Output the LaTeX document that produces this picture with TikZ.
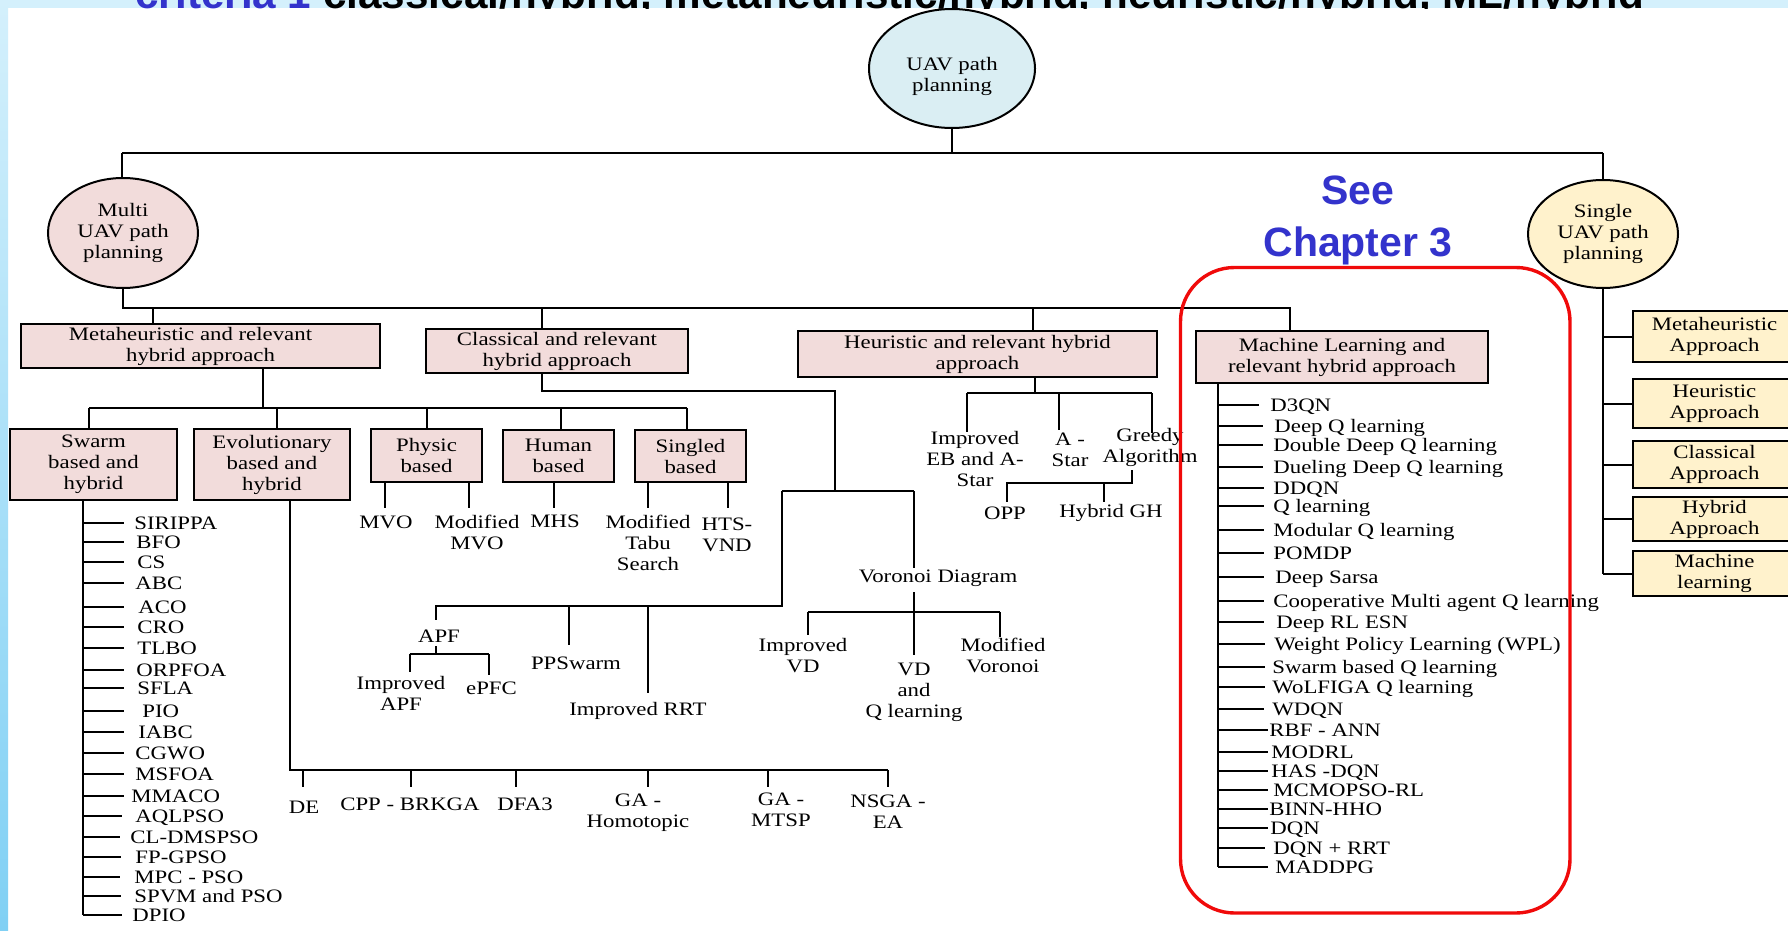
\documentclass[tikz,border=0pt]{standalone}
\usepackage{fontspec}
\setmainfont{Liberation Serif}[FakeStretch=1.2]
\newfontfamily\slidesans{Liberation Sans}
\usetikzlibrary{shapes.geometric}

\definecolor{catpink}{RGB}{242,220,219}
\definecolor{sidecream}{RGB}{255,242,204}
\definecolor{rootblue}{RGB}{218,238,243}
\definecolor{noteblue}{RGB}{51,51,204}
\definecolor{bandblue}{RGB}{212,240,252}
\definecolor{stripdark}{RGB}{128,208,244}
\definecolor{ringred}{RGB}{240,10,10}

\tikzset{
  txt/.style={inner sep=0pt, align=center, font=\fontsize{9.5}{10.5}\selectfont},
  catbox/.style={txt, draw, line width=1pt, fill=catpink},
  sidebox/.style={txt, draw, line width=1pt, fill=sidecream, minimum width=81.5pt},
  oval/.style={txt, draw, line width=1pt, ellipse},
  entry/.style={txt, anchor=base west},
  wire/.style={line width=1pt},
  bignote/.style={anchor=base, inner sep=0pt, text=noteblue,
    font=\slidesans\bfseries\fontsize{20.5}{24}\selectfont},
}

\begin{document}
\begin{tikzpicture}[x=0.5pt, y=-0.5pt]
\useasboundingbox (0,0) rectangle (1788,931);
\clip (0,0) rectangle (1788,931);
\fill[white] (0,0) rectangle (1788,931);

% slide frame: light band on top, graded bar on the left
\fill[bandblue] (0,0) rectangle (1788,8.5);
\shade[top color=bandblue, bottom color=stripdark] (0,0) rectangle (8,931);

% slide heading, cut off by the sheet below it
\begin{scope}
  \clip (0,0) rectangle (1788,8.5);
  \node[anchor=base west, inner sep=0pt] (title) at (135,8.5)
    {\resizebox{754.5pt}{!}{\slidesans\bfseries\color{noteblue}criteria 1 \color{black}classical/hybrid, metaheuristic/hybrid, heuristic/hybrid, ML/hybrid}};
\end{scope}

% ---------- ovals ----------
\node[oval, fill=rootblue, minimum width=83pt, minimum height=59.5pt] (root) at (952,68.5) {};
\node[txt] (rootlabel) at (952,76) {UAV path\\planning};
\node[oval, fill=catpink, minimum width=75pt, minimum height=55pt] (multi) at (123,233) {Multi\\UAV path\\planning};
\node[oval, fill=sidecream, minimum width=75pt, minimum height=54pt] (single) at (1603,234) {Single\\UAV path\\planning};

% ---------- multi-UAV categories ----------
\node[catbox, minimum width=179.5pt, minimum height=22pt] (meta) at (200.5,346) {Metaheuristic and relevant\hspace*{10pt}\\hybrid approach};
\node[catbox, minimum width=131pt, minimum height=22pt] (classical) at (557,351) {Classical and relevant\\hybrid approach};
\node[catbox, minimum width=179.5pt, minimum height=23pt] (heur) at (977.5,354) {Heuristic and relevant hybrid\\approach};
\node[catbox, minimum width=146pt, minimum height=26pt] (ml) at (1342,357) {Machine Learning and\\relevant hybrid approach};

\node[catbox, minimum width=83.5pt, minimum height=35.5pt] (swarm) at (93.5,464.5) {Swarm\\based and\\hybrid};
\node[catbox, minimum width=78pt, minimum height=35.5pt] (evol) at (272,464.5) {Evolutionary\\based and\\hybrid};
\node[catbox, minimum width=55.5pt, minimum height=26.5pt] (physic) at (426.5,455.5) {Physic\\based};
\node[catbox, minimum width=55.5pt, minimum height=26pt] (human) at (558.5,456) {Human\\based};
\node[catbox, minimum width=55.5pt, minimum height=26pt] (singled) at (690.5,456) {Singled\\based};

% ---------- single-UAV categories ----------
\node[sidebox, minimum height=25.5pt] (smeta) at (1714.5,336.5) {Metaheuristic\\Approach};
\node[sidebox, minimum height=24.5pt] (sheur) at (1714.5,403.5) {Heuristic\\Approach};
\node[sidebox, minimum height=23.5pt] (sclass) at (1714.5,464.5) {Classical\\Approach};
\node[sidebox, minimum height=22pt] (shyb) at (1714.5,519) {Hybrid\\Approach};
\node[sidebox, minimum height=22.5pt] (sml) at (1714.5,573.5) {Machine\\learning};

% ---------- leaf labels ----------
\node[txt] (mvo) at (386,522) {MVO};
\node[txt] (mmvo) at (477,532.5) {Modified\\MVO};
\node[txt] (mhs) at (555,521) {MHS};
\node[txt] (tabu) at (648,543) {Modified\\Tabu\\Search};
\node[txt] (hts) at (727,534.5) {HTS-\\VND};

\node[txt] (de) at (304,807) {DE};
\node[txt] (cpp) at (410,804) {CPP - BRKGA};
\node[txt] (dfa) at (525,804) {DFA3};
\node[txt] (gahom) at (638,813) {GA -\\Homotopic};
\node[txt] (gamtsp) at (781,810) {GA -\\MTSP};
\node[txt] (nsga) at (888,812) {NSGA -\\EA};

\node[txt] (apf) at (439,636) {APF};
\node[txt] (impapf) at (401,693) {Improved\\APF};
\node[txt] (epfc) at (491.5,688) {ePFC};
\node[txt] (ppswarm) at (576,663) {PPSwarm};
\node[txt] (imprrt) at (638,711) {Improved RRT};
\node[txt] (voronoi) at (938,578) {Voronoi Diagram};
\node[txt] (impvd) at (803,655.5) {Improved\\VD};
\node[txt] (vdq) at (914,692.5) {VD\\and\\Q learning};
\node[txt] (modvor) at (1003,655.5) {Modified\\Voronoi};

\node[txt] (ebstar) at (975,459) {Improved\\EB and A-\\Star};
\node[txt] (astar) at (1070,449.5) {A -\\Star};
\node[txt] (greedy) at (1150,447) {Greedy\\Algorithm};
\node[txt] (opp) at (1005,513) {OPP};
\node[txt] (hybgh) at (1111,513) {Hybrid GH};

% ---------- top split ----------
\coordinate (topL) at (122,153);
\coordinate (topR) at (1603,153);
\draw[line width=1.4pt] (topL) -- (topR);
\draw[wire] (root.south) -- (root.south |- topL);
\draw[wire] (topL) -- (topL |- multi.north);
\draw[wire] (topR) -- (single.north);

% ---------- multi-UAV bus ----------
\coordinate (mbL) at (123,308);
\coordinate (mbR) at (1289.5,308);
\draw[wire] (multi.south) -- (mbL) -- (mbR) -- (mbR |- ml.north);
\coordinate (mbMeta) at (153,308);
\coordinate (mbClass) at (542,308);
\coordinate (mbHeur) at (1033,308);
\draw[wire] (mbMeta) -- (mbMeta |- meta.north);
\draw[wire] (mbClass) -- (mbClass |- classical.north);
\draw[wire] (mbHeur) -- (mbHeur |- heur.north);

% ---------- metaheuristic families ----------
\coordinate (fbL) at (89,408);
\coordinate (fbR) at (687,408);
\coordinate (fbIn) at (263,408);
\coordinate (fbEvol) at (277,408);
\coordinate (fbPhys) at (427,408);
\coordinate (fbHum) at (561,408);
\draw[wire] (fbIn |- meta.south) -- (fbIn);
\draw[wire] (fbL) -- (fbR);
\draw[wire] (fbL) -- (fbL |- swarm.north);
\draw[wire] (fbEvol) -- (fbEvol |- evol.north);
\draw[wire] (fbPhys) -- (fbPhys |- physic.north);
\draw[wire] (fbHum) -- (fbHum |- human.north);
\draw[wire] (fbR) -- (fbR |- singled.north);

\coordinate (lvMVO) at (384.5,508);
\coordinate (lvMMVO) at (468.6,508);
\coordinate (lvMHS) at (554,508);
\coordinate (lvTabu) at (648,508);
\coordinate (lvHTS) at (728,508);
\draw[wire] (lvMVO |- physic.south) -- (lvMVO);
\draw[wire] (lvMMVO |- physic.south) -- (lvMMVO);
\draw[wire] (lvMHS |- human.south) -- (lvMHS);
\draw[wire] (lvTabu |- singled.south) -- (lvTabu);
\draw[wire] (lvHTS |- singled.south) -- (lvHTS);

% swarm list
\coordinate (swSpine) at (83,915);
\draw[wire] (swSpine |- swarm.south) -- (swSpine);
\foreach \y/\xs/\xe/\itemtext [count=\i] in {
  523/134/124/SIRIPPA, 542/136/124/BFO, 562/137/124/CS, 583/135/124/ABC,
  607/138/124/ACO, 627/137/124/CRO, 648/137/124/TLBO, 670/136/124/ORPFOA,
  688/137/124/SFLA, 711/142/124/PIO, 732/138/124/IABC, 753/135/124/CGWO,
  774/135/124/MSFOA, 796/131/124/MMACO, 816/135/122/AQLPSO,
  837/130/120/CL-DMSPSO, 857/135/121/FP-GPSO, 877/134/120/MPC - PSO,
  896/134/121/SPVM and PSO, 915/132/122/DPIO}{
  \node[entry] (sw\i) at (\xs,\y+6.3) {\itemtext};
  \coordinate (swt\i) at (\xe,\y);
  \draw[wire] (swt\i -| swSpine) -- (swt\i);
}

% evolutionary list
\coordinate (evTurn) at (290,770);
\coordinate (evEnd) at (887.5,770);
\draw[wire] (evTurn |- evol.south) -- (evTurn) -- (evEnd);
\foreach \x/\n in {303/de, 410.5/cpp, 515.7/dfa, 648/gahom, 768/gamtsp, 887.5/nsga}{
  \coordinate (ev\n) at (\x,770);
  \draw[wire] (ev\n) -- ++(0,17);
}

% ---------- classical subtree ----------
\coordinate (clA) at (542,391);
\coordinate (clB) at (834.5,391);
\coordinate (clC) at (834.5,491);
\draw[wire] (clA |- classical.south) -- (clA) -- (clB) -- (clC);
\coordinate (clL) at (781.5,491);
\coordinate (clR) at (914,491);
\draw[wire] (clL) -- (clR);
\coordinate (plC) at (781.5,606);
\coordinate (plL) at (435.7,606);
\draw[wire] (clL) -- (plC) -- (plL) -- ++(0,14);
\coordinate (plPPS) at (569,606);
\coordinate (plRRT) at (648,606);
\draw[wire] (plPPS) -- ++(0,39);
\draw[wire] (plRRT) -- ++(0,87);

\coordinate (apfA) at (436,646);
\coordinate (apfB) at (436,654);
\coordinate (apfL) at (409.5,654);
\coordinate (apfR) at (489,654);
\draw[wire] (apfA) -- (apfB);
\draw[wire] (apfL) -- (apfR);
\draw[wire] (apfL) -- ++(0,18);
\draw[wire] (apfR) -- ++(0,21);

\draw[wire] (clR) -- ++(0,77);
\coordinate (vrA) at (914,592);
\coordinate (vrB) at (914,655);
\coordinate (vrL) at (808,612);
\coordinate (vrR) at (1000,612);
\draw[wire] (vrA) -- (vrB);
\draw[wire] (vrL) -- (vrR);
\draw[wire] (vrL) -- ++(0,23);
\draw[wire] (vrR) -- ++(0,25);

% ---------- heuristic subtree ----------
\coordinate (hrIn) at (1035,393);
\coordinate (hrL) at (967,393);
\coordinate (hrM) at (1059,393);
\coordinate (hrR) at (1152,393);
\draw[wire] (hrIn |- heur.south) -- (hrIn);
\draw[wire] (hrL) -- (hrR);
\draw[wire] (hrL) -- ++(0,39);
\draw[wire] (hrM) -- ++(0,37);
\draw[wire] (hrR) -- ++(0,40);
\coordinate (gdA) at (1132,470);
\coordinate (gdB) at (1132,483);
\coordinate (gdL) at (1007,483);
\coordinate (gdM) at (1104,483);
\draw[wire] (gdA) -- (gdB) -- (gdL) -- ++(0,19);
\draw[wire] (gdM) -- ++(0,19);

% ---------- machine learning list ----------
\coordinate (mlSpine) at (1218,867);
\draw[wire] (mlSpine |- ml.south) -- (mlSpine);
\foreach \y/\xs/\xe/\itemtext [count=\i] in {
  405/1270/1259/D3QN, 426/1274/1263/Deep Q learning,
  445/1273/1263/Double Deep Q learning, 467/1273/1263/Dueling Deep Q learning,
  488/1273/1264/DDQN, 506/1273/1264/Q learning,
  530/1273/1264/Modular Q learning, 553/1273/1264/POMDP,
  577/1275/1264/Deep Sarsa, 601/1273/1264/Cooperative Multi agent Q learning,
  622/1276/1264/Deep RL ESN, 644/1274/1265/Weight Policy Learning (WPL),
  667/1272/1265/Swarm based Q learning, 687/1272/1265/WoLFIGA Q learning,
  709/1272/1264/WDQN, 730/1269/1268/RBF - ANN, 752/1271/1268/MODRL,
  771/1271/1268/HAS -DQN, 790/1273/1268/MCMOPSO-RL, 809/1269/1268/BINN-HHO,
  828/1270/1268/DQN, 848/1273/1265/DQN + RRT, 867/1275/1268/MADDPG}{
  \node[entry] (ml\i) at (\xs,\y+6.3) {\itemtext};
  \coordinate (mlt\i) at (\xe,\y);
  \draw[wire] (mlt\i -| mlSpine) -- (mlt\i);
}

% ---------- single-UAV spine ----------
\draw[wire] (single.south) -- (single.south |- sml.west);
\foreach \b in {smeta, sheur, sclass, shyb, sml}
  \draw[wire] (\b.west -| single.south) -- (\b.west);

% ---------- highlight ----------
\draw[ringred, line width=1.7pt, rounded corners=27pt] (1180.5,267.5) rectangle (1570,913);
\node[bignote] (see) at (1358,205) {See};
\node[bignote] (chap) at (1358,256) {Chapter 3};
\end{tikzpicture}
\end{document}
